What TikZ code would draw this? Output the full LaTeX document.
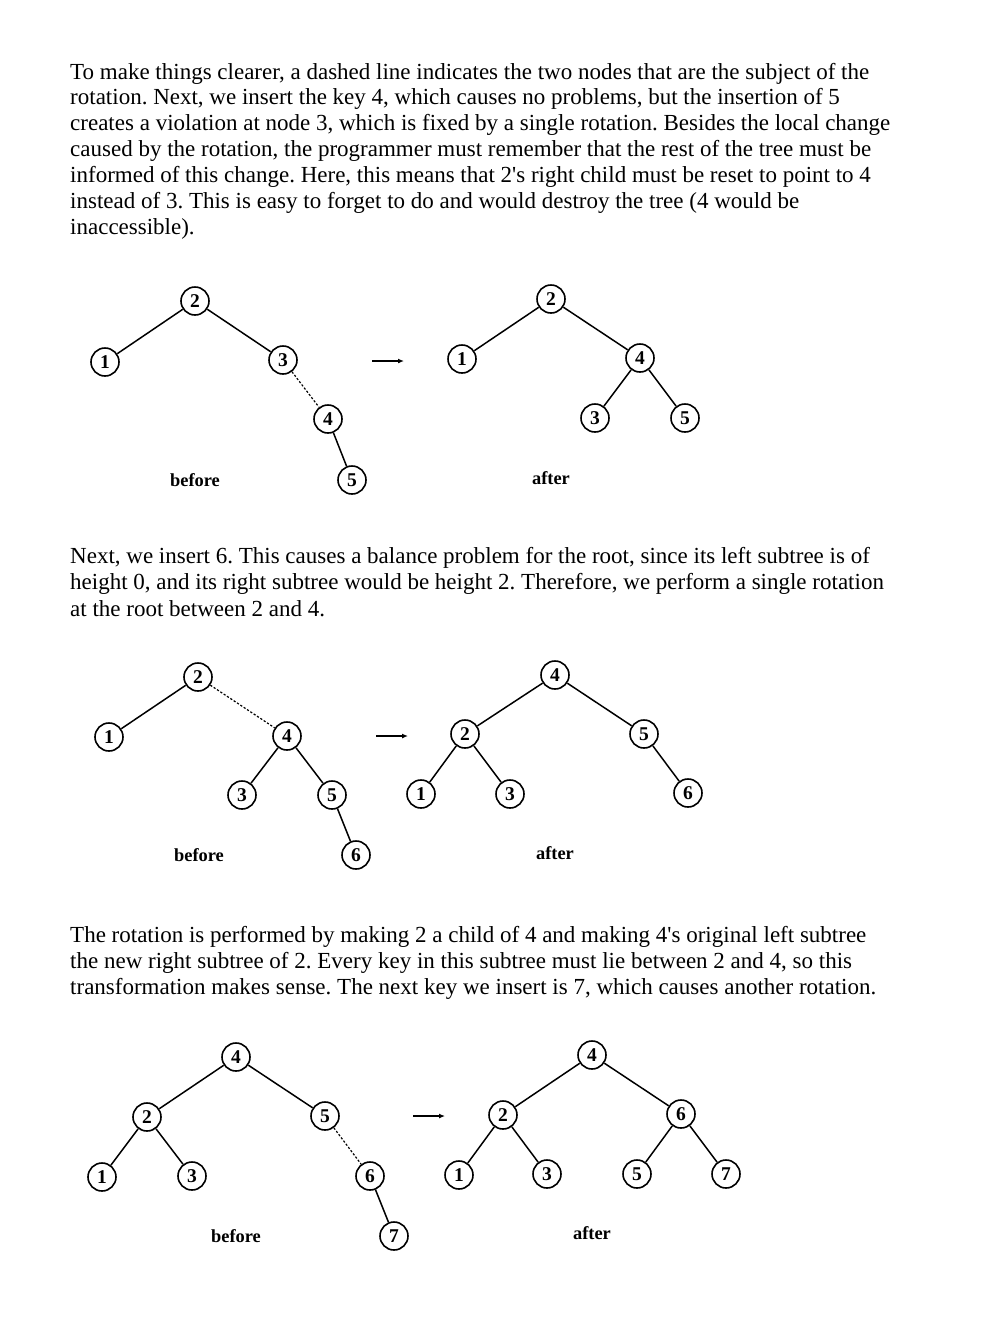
\documentclass[tikz,border=0pt]{standalone}
\usepackage{fontspec}
\setmainfont{Liberation Serif}
\usetikzlibrary{arrows.meta}
\frenchspacing
\tikzset{
  key/.style={circle,draw,line width=1.6pt,minimum size=28pt,inner sep=0pt,font=\bfseries\fontsize{19.5}{19.5}\selectfont},
  edge/.style={line width=1.5pt},
  dedge/.style={line width=1.2pt,dash pattern=on 2.2pt off 1.8pt},
  txt/.style={anchor=base west,inner sep=0pt,font=\fontsize{23}{26}\selectfont},
  lbl/.style={inner sep=0pt,font=\bfseries\fontsize{18.4}{20}\selectfont},
  rot/.style={line width=1.4pt,-{Latex[length=6pt,width=5pt]}}
}
\begin{document}
\begin{tikzpicture}[x=1pt,y=-1pt]
\useasboundingbox (0,0) rectangle (1001,1328);
% paragraph 1
\node[txt] (p1a) at (70,79) {To make things clearer, a dashed line indicates the two nodes that are the subject of the};
\node[txt] (p1b) at (70,104) {rotation. Next, we insert the key 4, which causes no problems, but the insertion of 5};
\node[txt] (p1c) at (70,130.5) {creates a violation at node 3, which is fixed by a single rotation. Besides the local change};
\node[txt] (p1d) at (70,156.5) {caused by the rotation, the programmer must remember that the rest of the tree must be};
\node[txt] (p1e) at (70,182.5) {informed of this change. Here, this means that 2\textquotesingle s right child must be reset to point to 4};
\node[txt] (p1f) at (70,208.5) {instead of 3. This is easy to forget to do and would destroy the tree (4 would be};
\node[txt] (p1g) at (70,234.5) {inaccessible).};
% tree 1 before
\node[key] (a2) at (195,301) {2};
\node[key] (a1) at (105,362) {1};
\node[key] (a3) at (283,360) {3};
\node[key] (a4) at (328,419) {4};
\node[key] (a5) at (352,480) {5};
\draw[edge] (a2) -- (a1);
\draw[edge] (a2) -- (a3);
\draw[dedge] (a3) -- (a4);
\draw[edge] (a4) -- (a5);
\node[lbl] (abefore) at (195,480) {before};
\coordinate (aarS) at (372,361);
\coordinate (aarE) at (404,361);
\draw[rot] (aarS) -- (aarE);
% tree 1 after
\node[key] (b2) at (551,299) {2};
\node[key] (b1) at (462,359) {1};
\node[key] (b4) at (640,358) {4};
\node[key] (b3) at (595,418) {3};
\node[key] (b5) at (685,418) {5};
\draw[edge] (b2) -- (b1);
\draw[edge] (b2) -- (b4);
\draw[edge] (b4) -- (b3);
\draw[edge] (b4) -- (b5);
\node[lbl] (bafter) at (551,478) {after};
% paragraph 2
\node[txt] (p2a) at (70,563) {Next, we insert 6. This causes a balance problem for the root, since its left subtree is of};
\node[txt] (p2b) at (70,589.5) {height 0, and its right subtree would be height 2. Therefore, we perform a single rotation};
\node[txt] (p2c) at (70,616) {at the root between 2 and 4.};
% tree 2 before
\node[key] (c2) at (198,677) {2};
\node[key] (c1) at (109,737) {1};
\node[key] (c4) at (287,736) {4};
\node[key] (c3) at (242,795) {3};
\node[key] (c5) at (332,795) {5};
\node[key] (c6) at (356,855) {6};
\draw[edge] (c2) -- (c1);
\draw[dedge] (c2) -- (c4);
\draw[edge] (c4) -- (c3);
\draw[edge] (c4) -- (c5);
\draw[edge] (c5) -- (c6);
\node[lbl] (cbefore) at (199,855) {before};
\coordinate (carS) at (376,736);
\coordinate (carE) at (408,736);
\draw[rot] (carS) -- (carE);
% tree 2 after
\node[key] (d4) at (555,675) {4};
\node[key] (d2) at (465,734) {2};
\node[key] (d5) at (644,734) {5};
\node[key] (d1) at (421,794) {1};
\node[key] (d3) at (510,794) {3};
\node[key] (d6) at (688,793) {6};
\draw[edge] (d4) -- (d2);
\draw[edge] (d4) -- (d5);
\draw[edge] (d2) -- (d1);
\draw[edge] (d2) -- (d3);
\draw[edge] (d5) -- (d6);
\node[lbl] (dafter) at (555,853) {after};
% paragraph 3
\node[txt] (p3a) at (70,942) {The rotation is performed by making 2 a child of 4 and making 4\textquotesingle s original left subtree};
\node[txt] (p3b) at (70,968) {the new right subtree of 2. Every key in this subtree must lie between 2 and 4, so this};
\node[txt] (p3c) at (70,994) {transformation makes sense. The next key we insert is 7, which causes another rotation.};
% tree 3 before
\node[key] (e4) at (236,1057) {4};
\node[key] (e2) at (147,1117) {2};
\node[key] (e5) at (325,1116) {5};
\node[key] (e1) at (102,1177) {1};
\node[key] (e3) at (192,1176) {3};
\node[key] (e6) at (370,1176) {6};
\node[key] (e7) at (394,1236) {7};
\draw[edge] (e4) -- (e2);
\draw[edge] (e4) -- (e5);
\draw[edge] (e2) -- (e1);
\draw[edge] (e2) -- (e3);
\draw[dedge] (e5) -- (e6);
\draw[edge] (e6) -- (e7);
\node[lbl] (ebefore) at (236,1236) {before};
\coordinate (earS) at (413,1116);
\coordinate (earE) at (445,1116);
\draw[rot] (earS) -- (earE);
% tree 3 after
\node[key] (f4) at (592,1055) {4};
\node[key] (f2) at (503,1115) {2};
\node[key] (f6) at (681,1114) {6};
\node[key] (f1) at (459,1175) {1};
\node[key] (f3) at (547,1174) {3};
\node[key] (f5) at (637,1174) {5};
\node[key] (f7) at (726,1174) {7};
\draw[edge] (f4) -- (f2);
\draw[edge] (f4) -- (f6);
\draw[edge] (f2) -- (f1);
\draw[edge] (f2) -- (f3);
\draw[edge] (f6) -- (f5);
\draw[edge] (f6) -- (f7);
\node[lbl] (fafter) at (592,1233) {after};
\end{tikzpicture}
\end{document}
